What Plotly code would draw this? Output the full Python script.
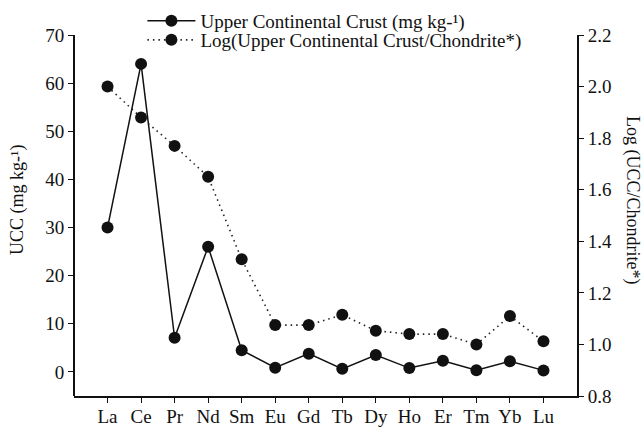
import plotly.graph_objects as go

elements = ["La", "Ce", "Pr", "Nd", "Sm", "Eu", "Gd", "Tb", "Dy", "Ho", "Er", "Tm", "Yb", "Lu"]
ucc = [30, 64, 7.1, 26, 4.5, 0.88, 3.8, 0.64, 3.5, 0.8, 2.3, 0.33, 2.2, 0.32]
log_ucc_chondrite = [2.00, 1.88, 1.77, 1.65, 1.33, 1.075, 1.075, 1.115, 1.053, 1.04, 1.04, 1.00, 1.11, 1.012]
left_ticks = [0, 10, 20, 30, 40, 50, 60, 70]
right_ticks = [0.8, 1.0, 1.2, 1.4, 1.6, 1.8, 2.0, 2.2]

FONT = "Liberation Serif, Times New Roman, serif"

H = 427
T_PLOT = 35      # top of plot area in px
B_MARGIN = 31
inner_h = H - B_MARGIN
top_dom = (inner_h - T_PLOT) / inner_h

fig = go.Figure()
fig.add_trace(go.Scatter(
    x=elements, y=ucc, mode="lines+markers",
    name="Upper Continental Crust (mg kg-¹)",
    line=dict(color="#111111", width=1.5),
    marker=dict(color="#111111", size=12),
    yaxis="y", legend="legend"))
fig.add_trace(go.Scatter(
    x=elements, y=log_ucc_chondrite, mode="lines+markers",
    name="Log(Upper Continental Crust/Chondrite*)",
    line=dict(color="#222222", width=1.6, dash="1.5px,4px"),
    marker=dict(color="#111111", size=12),
    yaxis="y2", legend="legend2"))

leg_common = dict(x=0.136, xanchor="left", yanchor="middle",
                  bgcolor="rgba(0,0,0,0)", font=dict(size=19), itemwidth=48)

fig.update_layout(
    width=644, height=H,
    margin=dict(l=74, r=67, t=0, b=B_MARGIN, autoexpand=False),
    paper_bgcolor="white", plot_bgcolor="white",
    font=dict(family=FONT, size=19, color="#111111"),
    showlegend=True,
    legend=dict(y=(inner_h - 21) / inner_h, **leg_common),
    legend2=dict(y=(inner_h - 40) / inner_h, **leg_common),
    xaxis=dict(type="category", range=[-1, 14], showgrid=False, zeroline=False,
               showline=True, linecolor="#111111", linewidth=2,
               ticks="outside", ticklen=5, tickwidth=1, tickcolor="#111111",
               ticklabelstandoff=-3, tickfont=dict(size=19)),
    yaxis=dict(range=[-5, 70], domain=[0, top_dom], tickvals=left_ticks,
               showgrid=False, zeroline=False,
               showline=False, ticks="outside", ticklen=5, tickwidth=1,
               tickcolor="#111111", tickfont=dict(size=19)),
    yaxis2=dict(range=[0.8, 2.2], tickvals=right_ticks, tickformat=".1f",
                overlaying="y", side="right", showgrid=False, zeroline=False,
                showline=True, linecolor="#111111", linewidth=2,
                ticks="outside", ticklen=5, tickwidth=1, tickcolor="#111111",
                tickfont=dict(size=19)),
    shapes=[dict(type="line", xref="paper", yref="y", x0=0, x1=0, y0=-5, y1=70,
                 line=dict(color="#111111", width=2))],
    annotations=[
        dict(text="UCC (mg kg-¹)", xref="paper", yref="paper",
             x=0, y=(inner_h - 200) / inner_h, xanchor="center", yanchor="middle",
             xshift=-56, textangle=-90, showarrow=False, font=dict(size=18)),
        dict(text="Log (UCC/Chondrite*)", xref="paper", yref="paper",
             x=1, y=(inner_h - 200) / inner_h, xanchor="center", yanchor="middle",
             xshift=55, textangle=90, showarrow=False, font=dict(size=18)),
    ],
)

fig.write_html("out.html", config={"displayModeBar": False},
               post_script="document.body.style.margin='0';document.body.style.padding='0';")
